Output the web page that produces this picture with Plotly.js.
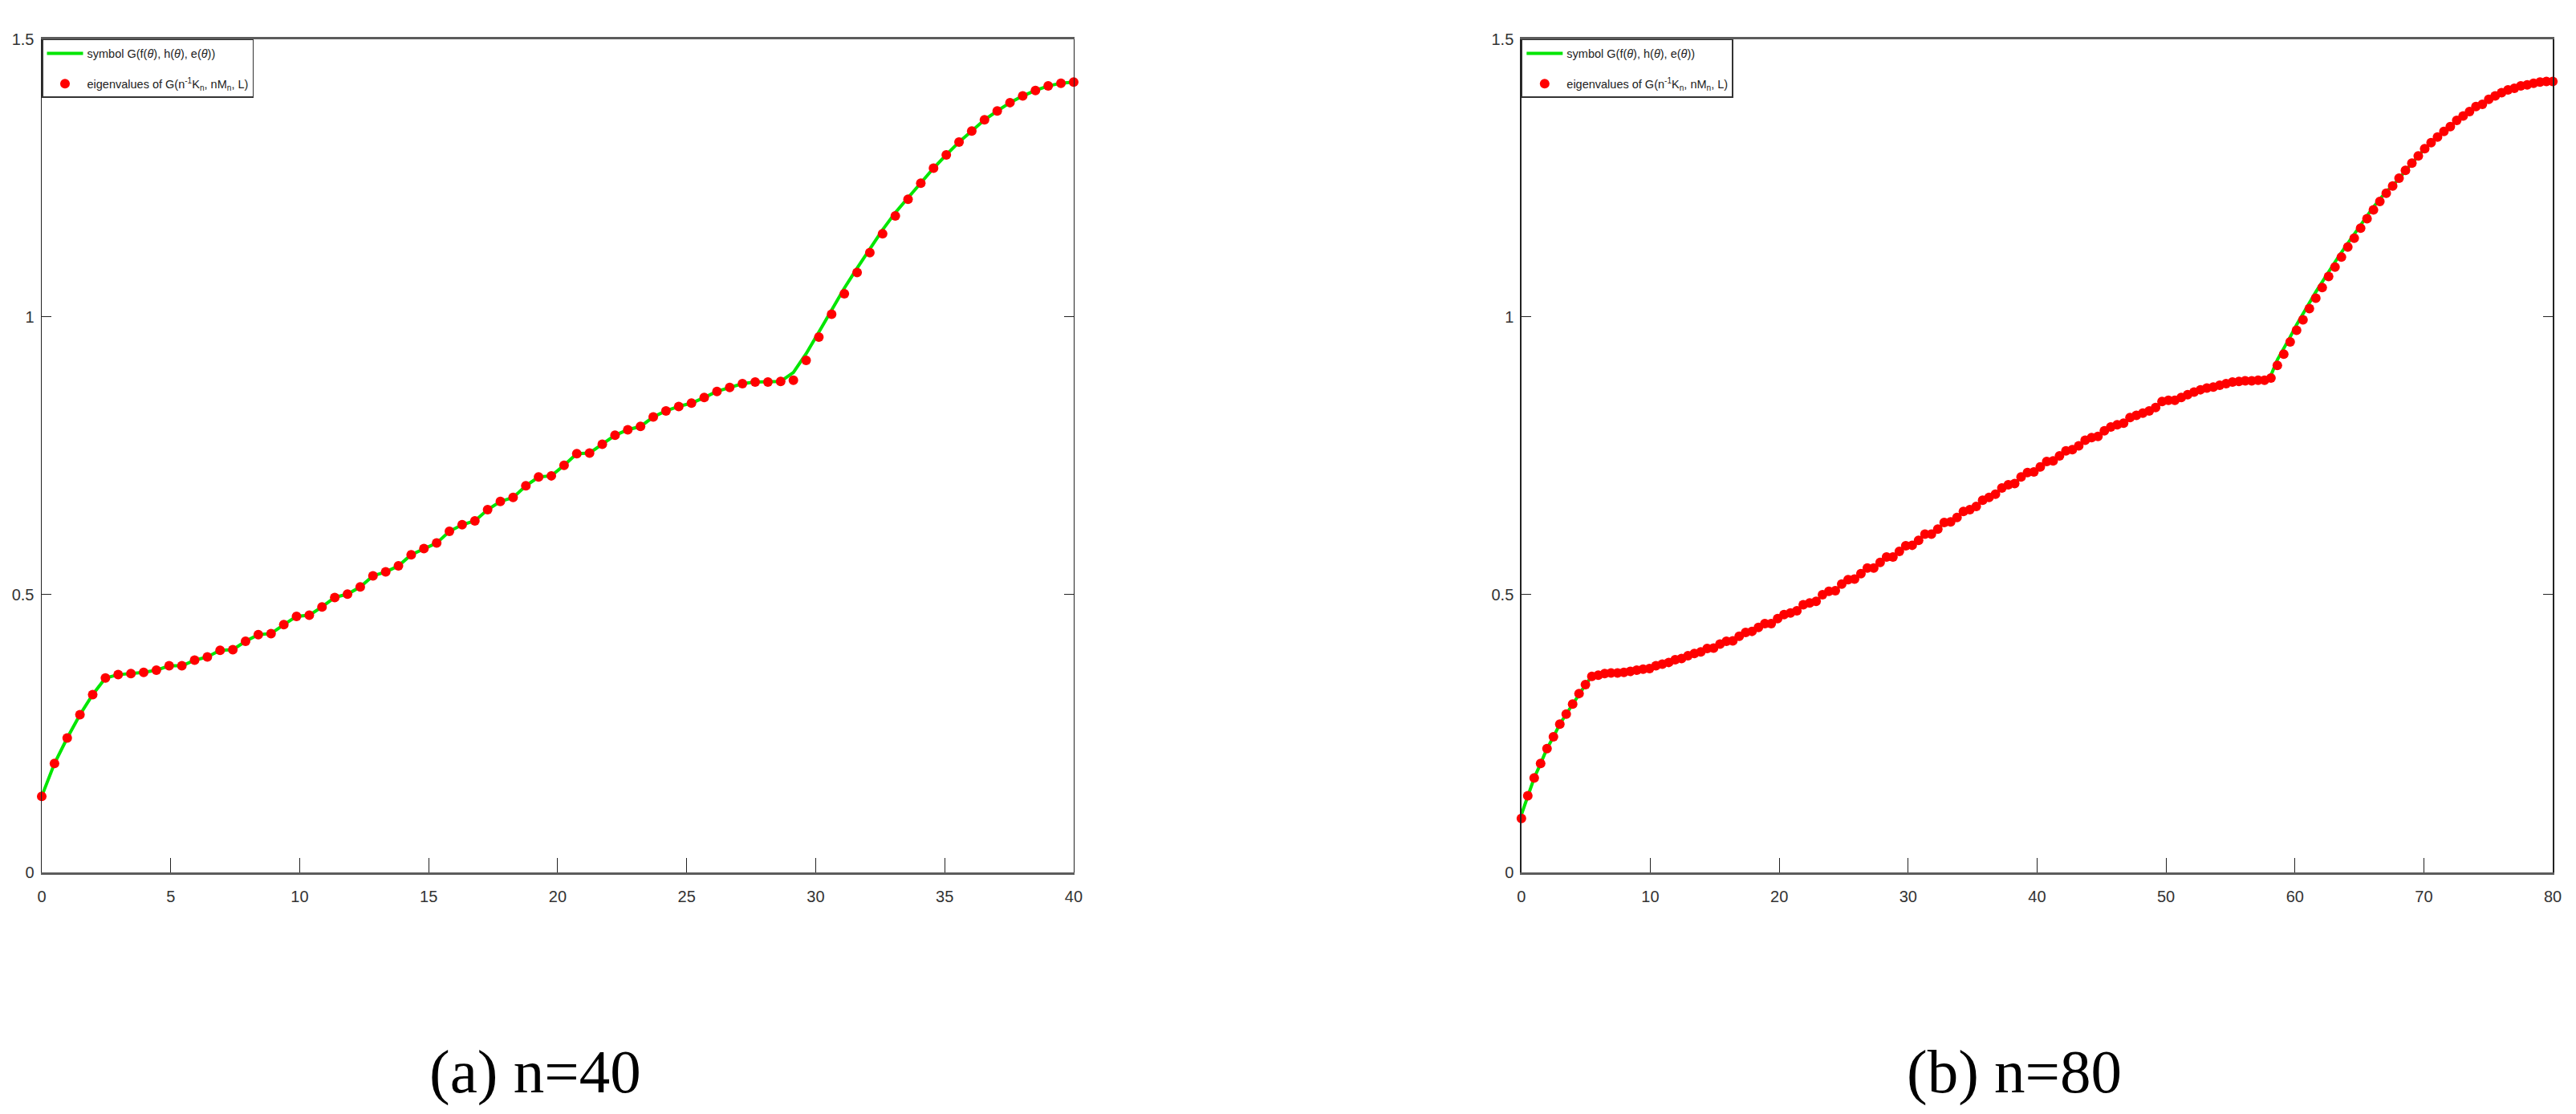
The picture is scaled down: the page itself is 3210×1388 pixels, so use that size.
<!DOCTYPE html>
<html>
<head>
<meta charset="utf-8">
<script src="https://cdn.plot.ly/plotly-3.0.1.min.js"></script>
<style>
  html, body { margin: 0; padding: 0; background: #fff; }
  #chart { width: 3210px; height: 1388px; }
</style>
</head>
<body>
<div id="chart"></div>
<script>
// n = 40: eigenvalues (82 of them) and the symbol curve on the same grid
var eig40 = [
    0.137, 0.196, 0.242, 0.284, 0.320, 0.350, 0.356, 0.358, 0.360, 0.364,
    0.372, 0.372, 0.382, 0.388, 0.400, 0.401, 0.416, 0.428, 0.430, 0.446,
    0.461, 0.463, 0.478, 0.495, 0.501, 0.514, 0.534, 0.541, 0.552, 0.572,
    0.583, 0.593, 0.614, 0.626, 0.633, 0.653, 0.668, 0.675, 0.696, 0.712,
    0.714, 0.733, 0.754, 0.755, 0.771, 0.787, 0.797, 0.803, 0.820, 0.831,
    0.839, 0.845, 0.855, 0.866, 0.873, 0.880, 0.883, 0.883, 0.884, 0.886,
    0.922, 0.964, 1.005, 1.042, 1.080, 1.116, 1.150, 1.182, 1.212, 1.241,
    1.268, 1.292, 1.315, 1.335, 1.355, 1.371, 1.386, 1.398, 1.408, 1.416,
    1.421, 1.423
];
var sym40 = [
    0.137, 0.196, 0.242, 0.284, 0.320, 0.350, 0.356, 0.358, 0.360, 0.364,
    0.372, 0.372, 0.382, 0.388, 0.400, 0.401, 0.416, 0.428, 0.430, 0.446,
    0.461, 0.463, 0.478, 0.495, 0.501, 0.514, 0.534, 0.541, 0.552, 0.572,
    0.583, 0.593, 0.614, 0.626, 0.633, 0.653, 0.668, 0.675, 0.696, 0.712,
    0.714, 0.733, 0.754, 0.755, 0.771, 0.787, 0.797, 0.803, 0.820, 0.831,
    0.839, 0.845, 0.855, 0.866, 0.873, 0.880, 0.883, 0.883, 0.884, 0.900,
    0.934, 0.973, 1.013, 1.052, 1.088, 1.123, 1.157, 1.188, 1.215, 1.243,
    1.268, 1.292, 1.315, 1.335, 1.355, 1.371, 1.386, 1.398, 1.408, 1.416,
    1.421, 1.423
];

// n = 80: eigenvalues (162 of them) and the symbol curve
var eig80 = [
    0.097, 0.138, 0.170, 0.196, 0.223, 0.244, 0.267, 0.285, 0.303, 0.322,
    0.338, 0.353, 0.355, 0.358, 0.359, 0.359, 0.360, 0.362, 0.364, 0.366,
    0.367, 0.372, 0.375, 0.378, 0.383, 0.385, 0.390, 0.394, 0.397, 0.403,
    0.404, 0.411, 0.416, 0.417, 0.425, 0.432, 0.434, 0.441, 0.448, 0.448,
    0.457, 0.464, 0.467, 0.471, 0.482, 0.485, 0.488, 0.500, 0.506, 0.507,
    0.519, 0.527, 0.528, 0.538, 0.548, 0.548, 0.558, 0.568, 0.568, 0.578,
    0.588, 0.589, 0.598, 0.609, 0.609, 0.618, 0.630, 0.631, 0.639, 0.650,
    0.653, 0.659, 0.670, 0.675, 0.681, 0.692, 0.698, 0.700, 0.712, 0.720,
    0.721, 0.730, 0.740, 0.741, 0.750, 0.759, 0.761, 0.768, 0.778, 0.783,
    0.785, 0.795, 0.802, 0.806, 0.809, 0.819, 0.823, 0.827, 0.831, 0.837,
    0.848, 0.850, 0.850, 0.855, 0.860, 0.865, 0.869, 0.872, 0.874, 0.877,
    0.880, 0.883, 0.884, 0.885, 0.885, 0.886, 0.886, 0.890, 0.913, 0.933,
    0.955, 0.976, 0.995, 1.015, 1.034, 1.053, 1.073, 1.090, 1.108, 1.126,
    1.142, 1.160, 1.177, 1.193, 1.208, 1.223, 1.236, 1.250, 1.264, 1.277,
    1.290, 1.303, 1.314, 1.324, 1.334, 1.343, 1.354, 1.362, 1.370, 1.379,
    1.383, 1.392, 1.398, 1.404, 1.409, 1.412, 1.416, 1.418, 1.421, 1.423,
    1.424, 1.424
];
var sym80 = [
    0.104, 0.138, 0.170, 0.196, 0.223, 0.244, 0.267, 0.285, 0.303, 0.322,
    0.338, 0.353, 0.355, 0.358, 0.359, 0.359, 0.360, 0.362, 0.364, 0.366,
    0.367, 0.372, 0.375, 0.378, 0.383, 0.385, 0.390, 0.394, 0.397, 0.403,
    0.404, 0.411, 0.416, 0.417, 0.425, 0.432, 0.434, 0.441, 0.448, 0.448,
    0.457, 0.464, 0.467, 0.471, 0.482, 0.485, 0.488, 0.500, 0.506, 0.507,
    0.519, 0.527, 0.528, 0.538, 0.548, 0.548, 0.558, 0.568, 0.568, 0.578,
    0.588, 0.589, 0.598, 0.609, 0.609, 0.618, 0.630, 0.631, 0.639, 0.650,
    0.653, 0.659, 0.670, 0.675, 0.681, 0.692, 0.698, 0.700, 0.712, 0.720,
    0.721, 0.730, 0.740, 0.741, 0.750, 0.759, 0.761, 0.768, 0.778, 0.783,
    0.785, 0.795, 0.802, 0.806, 0.809, 0.819, 0.823, 0.827, 0.831, 0.837,
    0.848, 0.850, 0.850, 0.855, 0.860, 0.865, 0.869, 0.872, 0.874, 0.877,
    0.880, 0.883, 0.884, 0.885, 0.885, 0.886, 0.886, 0.895, 0.923, 0.943,
    0.964, 0.986, 1.006, 1.026, 1.045, 1.063, 1.082, 1.099, 1.116, 1.133,
    1.149, 1.166, 1.182, 1.198, 1.212, 1.226, 1.236, 1.250, 1.264, 1.277,
    1.290, 1.303, 1.314, 1.324, 1.334, 1.343, 1.354, 1.362, 1.370, 1.379,
    1.383, 1.392, 1.398, 1.404, 1.409, 1.412, 1.416, 1.418, 1.421, 1.423,
    1.424, 1.424
];

var xTicks40 = [0, 5, 10, 15, 20, 25, 30, 35, 40];
var xTicks80 = [0, 10, 20, 30, 40, 50, 60, 70, 80];
var yTicks = [0, 0.5, 1, 1.5];
var yTickText = ['0', '0.5', '1', '1.5'];
var captions = ['(a) n=40', '(b) n=80'];

var symName = 'symbol G(f(<i>θ</i>), h(<i>θ</i>), e(<i>θ</i>))';
var eigName = 'eigenvalues of G(n<sup>-1</sup>K<sub>n</sub>, nM<sub>n</sub>, L)';

// points sit evenly from 0 to n
var x40 = eig40.map((v, i) => i * 40 / (eig40.length - 1));
var x80 = eig80.map((v, i) => i * 80 / (eig80.length - 1));

var green = '#00e600';
var red = '#ff0000';
var sans = '"Liberation Sans", Arial, sans-serif';

var data = [
    { x: x40, y: sym40, name: symName, type: 'scatter', mode: 'lines', legendgroup: 'sym',
      line: { color: green, width: 4 }, xaxis: 'x', yaxis: 'y', legend: 'legend', cliponaxis: false },
    { x: x40, y: eig40, name: eigName, type: 'scatter', mode: 'markers', legendgroup: 'eig',
      marker: { color: red, size: 12 }, xaxis: 'x', yaxis: 'y', legend: 'legend', cliponaxis: false },
    { x: x80, y: sym80, name: symName, type: 'scatter', mode: 'lines', legendgroup: 'sym',
      line: { color: green, width: 4 }, xaxis: 'x2', yaxis: 'y2', legend: 'legend2', cliponaxis: false },
    { x: x80, y: eig80, name: eigName, type: 'scatter', mode: 'markers', legendgroup: 'eig',
      marker: { color: red, size: 12 }, xaxis: 'x2', yaxis: 'y2', legend: 'legend2', cliponaxis: false }
];

function xAxis(domain, range, ticks, anchor) {
    return {
        domain: domain, range: range, anchor: anchor,
        tickmode: 'array', tickvals: ticks,
        ticks: 'inside', ticklen: 18, tickwidth: 1, tickcolor: '#222',
        showline: true, linewidth: 3, linecolor: '#5c5c5c', mirror: true,
        showgrid: false, zeroline: false,
        tickfont: { family: sans, size: 20, color: '#333' },
        ticklabelstandoff: 10
    };
}

function yAxis(anchor) {
    return {
        domain: [0.2169, 0.9647], range: [0, 1.5], anchor: anchor,
        tickmode: 'array', tickvals: yTicks, ticktext: yTickText,
        ticks: 'inside', ticklen: 12, tickwidth: 1, tickcolor: '#222',
        showline: true, linewidth: 1.5, linecolor: '#222', mirror: 'ticks',
        showgrid: false, zeroline: false,
        tickfont: { family: sans, size: 20, color: '#333' },
        ticklabelstandoff: 4
    };
}

function legendBox(x) {
    return {
        x: x, y: 0.9647, xanchor: 'left', yanchor: 'top',
        bgcolor: '#fff', bordercolor: '#333', borderwidth: 1.5,
        font: { family: sans, size: 14.5, color: '#222' },
        itemwidth: 45, tracegroupgap: 16
    };
}

var layout = {
    width: 3210,
    height: 1388,
    margin: { l: 0, r: 0, t: 0, b: 0 },
    paper_bgcolor: '#fff',
    plot_bgcolor: '#fff',
    showlegend: true,
    xaxis: xAxis([0.0162, 0.4168], [0, 40], xTicks40, 'y'),
    yaxis: yAxis('x'),
    xaxis2: xAxis([0.5906, 0.9910], [0, 80], xTicks80, 'y2'),
    yaxis2: yAxis('x2'),
    legend: legendBox(0.0162),
    legend2: legendBox(0.5906),
    annotations: [
        { text: captions[0], xref: 'paper', yref: 'paper', x: 0.2078, y: 0.0382,
          xanchor: 'center', yanchor: 'middle', showarrow: false,
          font: { family: '"Liberation Serif", "Times New Roman", serif', size: 77, color: '#000' } },
        { text: captions[1], xref: 'paper', yref: 'paper', x: 0.7819, y: 0.0382,
          xanchor: 'center', yanchor: 'middle', showarrow: false,
          font: { family: '"Liberation Serif", "Times New Roman", serif', size: 77, color: '#000' } }
    ]
};

Plotly.newPlot('chart', data, layout, { staticPlot: true });
</script>
</body>
</html>
